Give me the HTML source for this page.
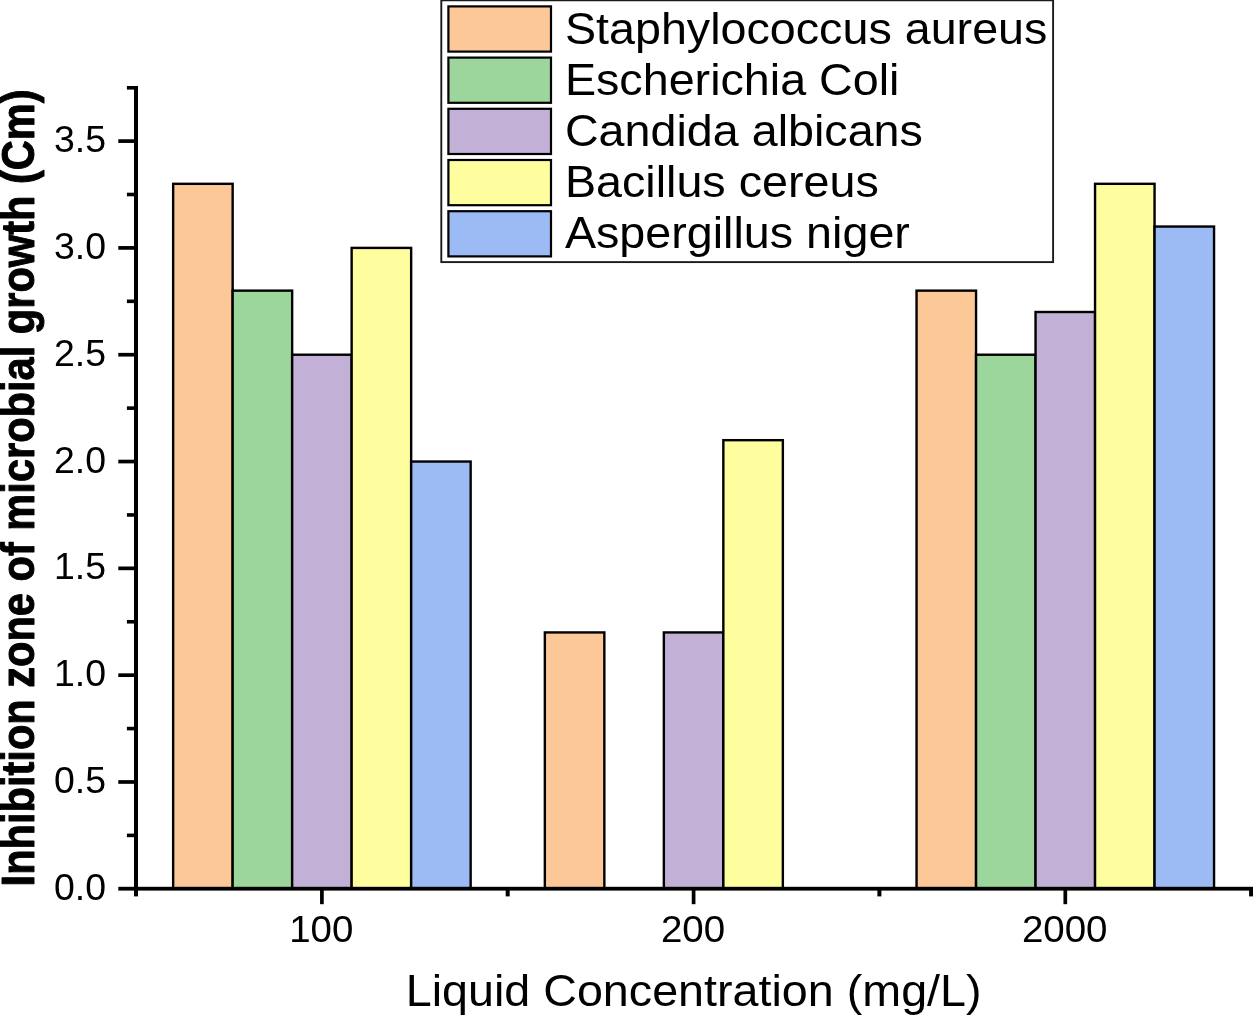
<!DOCTYPE html>
<html lang="en"><head><meta charset="utf-8"><title>Inhibition zone of microbial growth</title>
<style>html,body{margin:0;padding:0;background:#fff;}body{width:1253px;height:1015px;overflow:hidden;}svg{display:block;}text{font-family:"Liberation Sans",sans-serif;fill:#000;}</style>
</head><body>
<svg width="1253" height="1015" viewBox="0 0 1253 1015">
<rect x="0" y="0" width="1253" height="1015" fill="#fff"/>
<g stroke="#000" stroke-width="2.4">
<rect x="173.15" y="183.82" width="59.50" height="704.98" fill="#FDC897"/>
<rect x="232.65" y="290.64" width="59.50" height="598.16" fill="#9DD69C"/>
<rect x="292.15" y="354.72" width="59.50" height="534.08" fill="#C2B0D7"/>
<rect x="351.65" y="247.91" width="59.50" height="640.89" fill="#FFFE9F"/>
<rect x="411.15" y="461.54" width="59.50" height="427.26" fill="#9CBAF3"/>
<rect x="544.85" y="632.44" width="59.50" height="256.36" fill="#FDC897"/>
<rect x="663.85" y="632.44" width="59.50" height="256.36" fill="#C2B0D7"/>
<rect x="723.35" y="440.18" width="59.50" height="448.62" fill="#FFFE9F"/>
<rect x="916.55" y="290.64" width="59.50" height="598.16" fill="#FDC897"/>
<rect x="976.05" y="354.72" width="59.50" height="534.08" fill="#9DD69C"/>
<rect x="1035.55" y="312.00" width="59.50" height="576.80" fill="#C2B0D7"/>
<rect x="1095.05" y="183.82" width="59.50" height="704.98" fill="#FFFE9F"/>
<rect x="1154.55" y="226.55" width="59.50" height="662.25" fill="#9CBAF3"/>
</g>
<g fill="#000">
<rect x="134" y="86" width="4" height="805"/>
<rect x="118.3" y="886.8" width="1134.7" height="3.8"/>
<rect x="118.3" y="780.13" width="16" height="3.7"/>
<rect x="118.3" y="673.32" width="16" height="3.7"/>
<rect x="118.3" y="566.50" width="16" height="3.7"/>
<rect x="118.3" y="459.69" width="16" height="3.7"/>
<rect x="118.3" y="352.87" width="16" height="3.7"/>
<rect x="118.3" y="246.06" width="16" height="3.7"/>
<rect x="118.3" y="139.25" width="16" height="3.7"/>
<rect x="126.9" y="833.59" width="8" height="3.6"/>
<rect x="126.9" y="726.78" width="8" height="3.6"/>
<rect x="126.9" y="619.96" width="8" height="3.6"/>
<rect x="126.9" y="513.15" width="8" height="3.6"/>
<rect x="126.9" y="406.33" width="8" height="3.6"/>
<rect x="126.9" y="299.52" width="8" height="3.6"/>
<rect x="126.9" y="192.70" width="8" height="3.6"/>
<rect x="126.9" y="86" width="8" height="3.6"/>
<rect x="320.05" y="889" width="3.7" height="15.2"/>
<rect x="691.75" y="889" width="3.7" height="15.2"/>
<rect x="1063.45" y="889" width="3.7" height="15.2"/>
<rect x="134.00" y="889" width="4" height="7.4"/>
<rect x="505.70" y="889" width="4" height="7.4"/>
<rect x="877.40" y="889" width="4" height="7.4"/>
<rect x="1249.10" y="889" width="4" height="7.4"/>
</g>
<text transform="translate(106.1 899.80) scale(1.0345 1)" font-size="36.2" text-anchor="end">0.0</text>
<text transform="translate(106.1 792.98) scale(1.0345 1)" font-size="36.2" text-anchor="end">0.5</text>
<text transform="translate(106.1 686.17) scale(1.0345 1)" font-size="36.2" text-anchor="end">1.0</text>
<text transform="translate(106.1 579.36) scale(1.0345 1)" font-size="36.2" text-anchor="end">1.5</text>
<text transform="translate(106.1 472.54) scale(1.0345 1)" font-size="36.2" text-anchor="end">2.0</text>
<text transform="translate(106.1 365.72) scale(1.0345 1)" font-size="36.2" text-anchor="end">2.5</text>
<text transform="translate(106.1 258.91) scale(1.0345 1)" font-size="36.2" text-anchor="end">3.0</text>
<text transform="translate(106.1 152.10) scale(1.0345 1)" font-size="36.2" text-anchor="end">3.5</text>
<text transform="translate(321.30 941.6) scale(1.0635 1)" font-size="36.2" text-anchor="middle">100</text>
<text transform="translate(693.00 941.6) scale(1.0635 1)" font-size="36.2" text-anchor="middle">200</text>
<text transform="translate(1064.70 941.6) scale(1.0635 1)" font-size="36.2" text-anchor="middle">2000</text>
<text transform="translate(405.7 1005.8) scale(1.0704 1)" font-size="43.6">Liquid Concentration (mg/L)</text>
<text transform="translate(33.6 886.4) rotate(-90) scale(1 1.11)" font-size="41.6" font-weight="bold" stroke="#000" stroke-width="0.9" stroke-linejoin="round">Inhibition zone of microbial growth (Cm)</text>
<rect x="441.3" y="0.3" width="611.8" height="261.8" fill="#fff" stroke="#1a1a1a" stroke-width="1.9"/>
<rect x="448.4" y="6.40" width="102.6" height="45.2" fill="#FDC897" stroke="#000" stroke-width="2.2"/>
<text transform="translate(564.9 43.50) scale(1.0704 1)" font-size="43.6">Staphylococcus aureus</text>
<rect x="448.4" y="57.60" width="102.6" height="45.2" fill="#9DD69C" stroke="#000" stroke-width="2.2"/>
<text transform="translate(564.9 94.50) scale(1.0704 1)" font-size="43.6">Escherichia Coli</text>
<rect x="448.4" y="108.80" width="102.6" height="45.2" fill="#C2B0D7" stroke="#000" stroke-width="2.2"/>
<text transform="translate(564.9 145.50) scale(1.0704 1)" font-size="43.6">Candida albicans</text>
<rect x="448.4" y="160.00" width="102.6" height="45.2" fill="#FFFE9F" stroke="#000" stroke-width="2.2"/>
<text transform="translate(564.9 196.50) scale(1.0704 1)" font-size="43.6">Bacillus cereus</text>
<rect x="448.4" y="211.20" width="102.6" height="45.2" fill="#9CBAF3" stroke="#000" stroke-width="2.2"/>
<text transform="translate(564.9 247.50) scale(1.0704 1)" font-size="43.6">Aspergillus niger</text>
</svg>
</body></html>
